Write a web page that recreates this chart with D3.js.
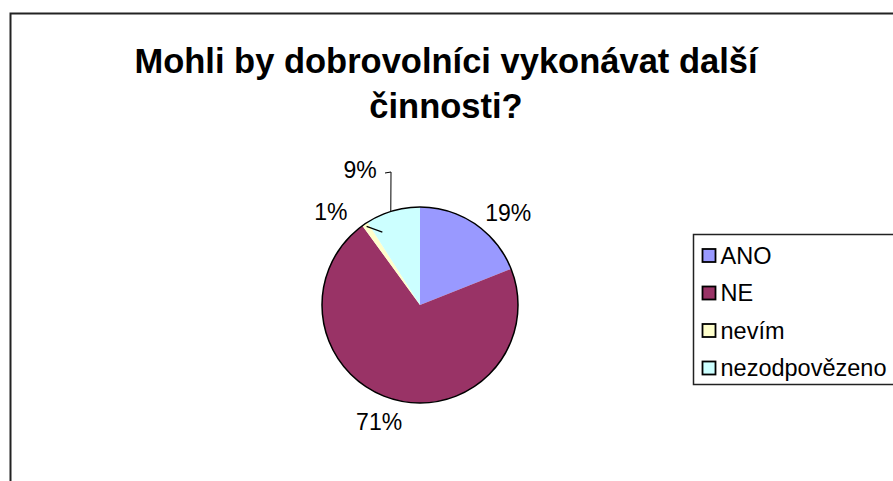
<!DOCTYPE html>
<html>
<head>
<meta charset="utf-8">
<script src="https://cdn.jsdelivr.net/npm/d3@7"></script>
<style>
  html, body { margin: 0; padding: 0; background: #fff; }
  svg { display: block; font-family: "Liberation Sans", Arial, sans-serif; }
</style>
</head>
<body>
<svg id="chart" width="893" height="481"></svg>
<script>
const categories = ["ANO", "NE", "nevím", "nezodpovězeno"];
const values = [19, 71, 1, 9];
const labels = ["19%", "71%", "1%", "9%"];
const COLORS = ["#9999FF", "#993366", "#FFFFCC", "#CCFFFF"];
const titleLines = ["Mohli by dobrovolníci vykonávat další", "činnosti?"];

const svg = d3.select("#chart");

// chart area frame (runs off the right and bottom edge)
svg.append("rect")
    .attr("x", 10.5).attr("y", 13.5)
    .attr("width", 900).attr("height", 500)
    .attr("fill", "none")
    .attr("stroke", "#222")
    .attr("stroke-width", 2);

// title
svg.append("text")
    .attr("text-anchor", "middle")
    .style("font-size", "34.5px")
    .style("font-weight", "bold")
    .selectAll("tspan").data(titleLines).join("tspan")
    .attr("x", 446)
    .attr("y", (d, i) => 73 + i * 45)
    .text(d => d);

const cx = 420, cy = 305, R = 98;
const pie = d3.pie().sort(null).value(d => d);
const arcs = pie(values);
const arc = d3.arc().innerRadius(0).outerRadius(R);
const labelArc = d3.arc().innerRadius(125).outerRadius(125);

const g = svg.append("g").attr("transform", `translate(${cx},${cy})`);

g.selectAll(".slice").data(arcs).join("path")
    .attr("class", "slice")
    .attr("d", arc)
    .attr("fill", (d, i) => COLORS[i]);

g.append("circle")
    .attr("r", R)
    .attr("fill", "none")
    .attr("stroke", "#000")
    .attr("stroke-width", 1.5);

// leader lines for the small slices
const polar = (r, a) => [r * Math.sin(a), -r * Math.cos(a)];
const a9 = (arcs[3].startAngle + arcs[3].endAngle) / 2 - 0.02;
const p9 = polar(R, a9);
g.append("path")
    .attr("d", d3.line()([[-35, -132], [-29, -133], p9]))
    .attr("fill", "none")
    .attr("stroke", "#000")
    .attr("stroke-width", 1);
const a1 = (arcs[2].startAngle + arcs[2].endAngle) / 2;
g.append("path")
    .attr("d", d3.line()([polar(R - 3, a1), polar(R - 16, a1 + 0.12)]))
    .attr("fill", "none")
    .attr("stroke", "#000")
    .attr("stroke-width", 1.2);

// percentage labels
const nudge = [[18, 11], [-6, -3], [-19, 10], [-25, -15]];
g.selectAll(".lbl").data(arcs).join("text")
    .attr("class", "lbl")
    .attr("text-anchor", "middle")
    .attr("dy", "0.35em")
    .style("font-size", "23px")
    .attr("x", (d, i) => labelArc.centroid(d)[0] + nudge[i][0])
    .attr("y", (d, i) => labelArc.centroid(d)[1] + nudge[i][1])
    .text((d, i) => labels[i]);

// legend
const lg = svg.append("g").attr("transform", "translate(693.5,234.5)");
lg.append("rect")
    .attr("width", 210).attr("height", 150)
    .attr("fill", "#fff")
    .attr("stroke", "#222")
    .attr("stroke-width", 1.5);
const item = lg.selectAll(".item").data(categories).join("g")
    .attr("class", "item")
    .attr("transform", (d, i) => `translate(9,${21 + i * 37.5})`);
item.append("rect")
    .attr("x", 0).attr("y", -6.5)
    .attr("width", 13).attr("height", 13)
    .attr("fill", (d, i) => COLORS[i])
    .attr("stroke", "#000")
    .attr("stroke-width", 1.8);
item.append("text")
    .attr("x", 18)
    .attr("dy", "0.36em")
    .style("font-size", "23.5px")
    .text(d => d);
</script>
</body>
</html>
